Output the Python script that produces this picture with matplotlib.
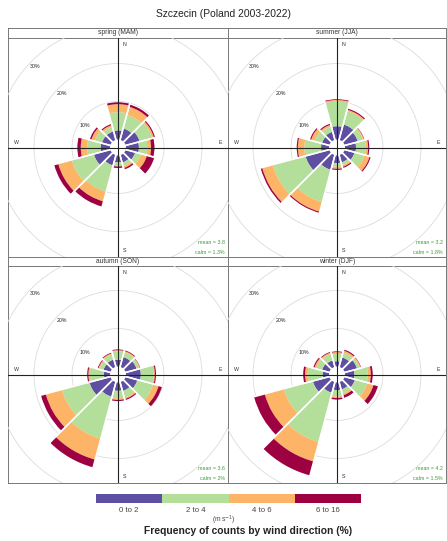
import numpy as np
import matplotlib
matplotlib.use('Agg')
import matplotlib.pyplot as plt

plt.rcParams['font.family'] = ['Liberation Sans', 'DejaVu Sans']

W, H = 447, 541

# wind direction sectors (degrees from north, clockwise)
directions = [0, 30, 60, 90, 120, 150, 180, 210, 240, 270, 300, 330]
speed_bins = ['0 to 2', '2 to 4', '4 to 6', '6 to 16']
bin_colors = ['#5E4FA2', '#B3DF9B', '#FDB466', '#9E0142']

seasons = ['spring (MAM)', 'summer (JJA)', 'autumn (SON)', 'winter (DJF)']
means = [3.8, 3.2, 3.6, 4.2]
calms = ['1.3%', '1.8%', '2%', '1.5%']

# frequency (%) per speed bin, per direction
spring = [
    [2.4, 3.1, 3.8, 3.4, 2.6, 2.0, 1.8, 2.8, 4.5, 2.5, 2.3, 2.3],
    [4.8, 3.7, 3.4, 2.2, 1.6, 1.0, 0.8, 7.2, 6.0, 3.5, 1.9, 1.2],
    [2.1, 2.2, 0.5, 1.0, 1.6, 0.5, 0.3, 2.6, 3.7, 1.7, 1.0, 0.5],
    [0.5, 0.6, 0.3, 0.9, 2.0, 0.4, 0.4, 1.4, 1.1, 0.9, 0.4, 0.3],
]
summer = [
    [3.5, 4.2, 3.6, 2.9, 2.7, 2.0, 2.0, 4.0, 6.5, 2.1, 2.0, 2.2],
    [6.5, 3.6, 1.4, 2.6, 2.7, 0.7, 1.0, 8.8, 8.9, 4.4, 2.0, 1.4],
    [0.4, 0.4, 0.3, 0.6, 1.4, 0.5, 0.5, 2.6, 2.9, 1.7, 1.0, 0.5],
    [0.2, 0.3, 0.1, 0.3, 0.3, 0.3, 0.3, 0.3, 0.4, 0.3, 0.3, 0.3],
]
autumn = [
    [1.8, 2.7, 3.0, 3.9, 3.2, 2.4, 2.2, 4.0, 5.7, 1.6, 1.9, 2.0],
    [2.2, 1.3, 0.7, 3.4, 4.3, 1.8, 2.0, 11.4, 7.5, 3.7, 1.1, 1.4],
    [0.3, 0.3, 0.2, 0.3, 1.5, 0.4, 0.4, 5.7, 4.4, 0.4, 0.3, 0.3],
    [0.2, 0.2, 0.1, 0.3, 0.9, 0.3, 0.3, 2.1, 1.3, 0.3, 0.2, 0.2],
]
winter = [
    [1.4, 2.6, 3.4, 2.5, 2.8, 2.0, 2.0, 2.9, 4.5, 1.7, 2.0, 1.8],
    [1.9, 1.3, 0.7, 3.5, 3.4, 1.1, 1.7, 13.4, 7.9, 3.9, 1.6, 1.7],
    [0.5, 0.5, 0.3, 0.8, 1.7, 0.5, 0.4, 5.3, 5.2, 0.7, 0.5, 0.4],
    [0.2, 0.3, 0.1, 0.5, 1.2, 0.7, 0.4, 3.8, 2.9, 0.5, 0.3, 0.2],
]
season_data = [spring, summer, autumn, winter]

rings = [10, 20, 30]
offset = 2.1      # inner hole, in % units
px_per_pct = 3.8  # radial scale


def fig_rect(x0, y0, x1, y1):
    return [x0 / W, 1 - y1 / H, (x1 - x0) / W, (y1 - y0) / H]


fig = plt.figure(figsize=(W / 100, H / 100), dpi=100)
fig.text(0.5, 1 - 14 / H, 'Szczecin (Poland 2003-2022)', ha='center', va='center',
         fontsize=7.4, color='#222222')

cols_px = [(8, 228), (228, 446)]
rows_px = [(28, 38, 257), (257, 266, 483)]

for i, name in enumerate(seasons):
    r, c = divmod(i, 2)
    x0, x1 = cols_px[c]
    s0, y0, y1 = rows_px[r]

    # strip
    st = fig.add_axes(fig_rect(x0, s0, x1, y0))
    st.set_xticks([])
    st.set_yticks([])
    for sp in st.spines.values():
        sp.set_color('#777777')
        sp.set_linewidth(0.7)
    st.text(0.5, 0.5, name, ha='center', va='center', fontsize=4.8, color='#333333',
            transform=st.transAxes)

    # panel frame (pixel units, centred)
    w, h = x1 - x0, y1 - y0
    ax = fig.add_axes(fig_rect(x0, y0, x1, y1))
    ax.set_xlim(-w / 2, w / 2)
    ax.set_ylim(-h / 2, h / 2)
    ax.set_xticks([])
    ax.set_yticks([])
    for sp in ax.spines.values():
        sp.set_color('#777777')
        sp.set_linewidth(0.7)

    ax.text(5, h / 2 - 7, 'N', fontsize=3.8, ha='left', va='center', color='#333333')
    ax.text(5, -h / 2 + 6, 'S', fontsize=3.8, ha='left', va='center', color='#333333')
    ax.text(-w / 2 + 6, 5, 'W', fontsize=3.8, ha='left', va='center', color='#333333')
    ax.text(w / 2 - 6, 5, 'E', fontsize=3.8, ha='right', va='center', color='#333333')
    ax.text(w / 2 - 3, -h / 2 + 14, 'mean = %.1f' % means[i], fontsize=3.8,
            ha='right', va='center', color='#3C9A3C')
    ax.text(w / 2 - 3, -h / 2 + 5, 'calm = ' + calms[i], fontsize=3.8,
            ha='right', va='center', color='#3C9A3C')

    # polar overlay with same centre
    cx, cy = (x0 + x1) / 2, (y0 + y1) / 2
    R = 135
    rmax = R / px_per_pct
    pax = fig.add_axes(fig_rect(cx - R, cy - R, cx + R, cy + R), projection='polar')
    pax.set_theta_zero_location('N')
    pax.set_theta_direction(-1)
    pax.set_ylim(0, rmax)
    pax.set_axis_off()
    pax.patch.set_facecolor('none')

    th_full = np.linspace(0, 2 * np.pi, 361)
    for v in rings:
        pax.plot(th_full, np.full_like(th_full, offset + v), color='#DCDCDC', lw=0.6, zorder=1)

    theta = np.radians(directions)
    base = np.full(len(directions), offset)
    for b in range(len(speed_bins)):
        vals = np.array(season_data[i][b])
        pax.bar(theta, vals, width=np.radians(30), bottom=base, color=bin_colors[b],
                linewidth=0, zorder=2)
        base = base + vals

    # thin white gaps between sectors
    for d, top in zip(directions, base):
        for edge in (d - 15, d + 15):
            pax.plot([np.radians(edge)] * 2, [offset - 0.5, top + 0.5], color='white',
                     lw=1.1, zorder=2.5, solid_capstyle='butt')

    for t in [0, np.pi / 2, np.pi, 3 * np.pi / 2]:
        pax.plot([t, t], [0, rmax], color='#222222', lw=0.8, zorder=3)

    for v, ang in zip(rings, [304, 314, 314]):
        pax.text(np.radians(ang), offset + v - 1.6, '%d%%' % v, fontsize=3.8,
                 ha='center', va='center', color='#222222')

    for art in pax.lines + pax.patches:
        art.set_clip_path(ax.patch)

# speed key
kx0, kx1 = 96, 361
key = fig.add_axes(fig_rect(kx0, 494, kx1, 503))
key.bar(range(len(speed_bins)), 1, width=1, color=bin_colors, align='edge')
key.set_xlim(0, len(speed_bins))
key.set_ylim(0, 1)
key.axis('off')
for b, lab in enumerate(speed_bins):
    xp = kx0 + (kx1 - kx0) * (b + 0.5) / len(speed_bins)
    fig.text(xp / W, 1 - 510 / H, lab, ha='center', va='center', fontsize=5.6, color='#444444')
fig.text(224 / W, 1 - 520 / H, r'(m s$^{-1}$)', ha='center', va='center', fontsize=4.8,
         color='#444444')
fig.text(248 / W, 1 - 531 / H, 'Frequency of counts by wind direction (%)', ha='center',
         va='center', fontsize=7.4, fontweight='bold', color='#222222')

fig.savefig('out.png', dpi=100)
